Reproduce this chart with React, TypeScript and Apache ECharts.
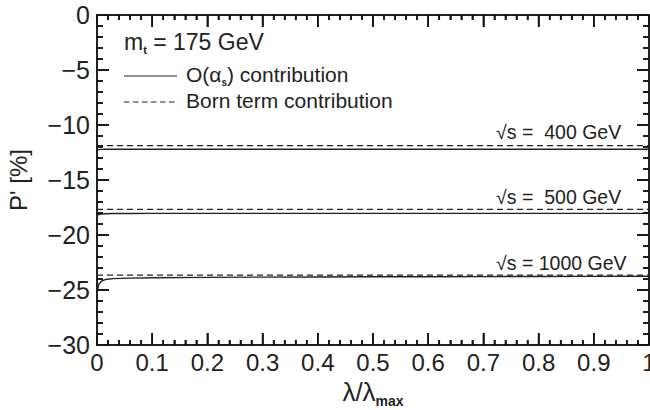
import React, { useEffect, useRef } from "react";
import * as echarts from "echarts";

const xs = [0, 0.003, 0.008, 0.015, 0.03, 0.06, 0.1, 0.2, 0.3, 0.4, 0.5, 0.6, 0.7, 0.8, 0.9, 1.0];
const alpha400 = [-12.28, -12.24, -12.22, -12.21, -12.2, -12.2, -12.2, -12.2, -12.2, -12.2, -12.2, -12.2, -12.2, -12.2, -12.2, -12.2];
const alpha500 = [-18.22, -18.15, -18.1, -18.07, -18.05, -18.04, -18.03, -18.03, -18.03, -18.03, -18.03, -18.03, -18.03, -18.03, -18.03, -18.03];
const alpha1000 = [-25.3, -24.5, -24.2, -24.05, -23.97, -23.92, -23.88, -23.85, -23.83, -23.82, -23.8, -23.79, -23.78, -23.77, -23.76, -23.75];
const bornX = [0, 1];
const born400 = [-11.88, -11.88];
const born500 = [-17.67, -17.67];
const born1000 = [-23.64, -23.64];
const energyLabels = ["√s =  400 GeV", "√s =  500 GeV", "√s = 1000 GeV"];
const energyLabelY = [-10.64, -16.55, -22.55];

const X_MIN = 0, X_MAX = 1, X_MAJOR = 0.1, X_MINOR = 0.02;
const Y_MIN = -30, Y_MAX = 0, Y_MAJOR = 5, Y_MINOR = 1;

const FONT = "Liberation Sans";
const INK = "#222";
const TICK = "#111";

function pairs(x: number[], y: number[]) {
  return x.map((v, i) => [v, y[i]]);
}

// tick marks as scatter symbols (thin rects) anchored on the frame through the axis scales
function tickData() {
  const out: any[] = [];
  const W = 1.6;
  const nx = Math.round((X_MAX - X_MIN) / X_MINOR);
  const xPer = Math.round(X_MAJOR / X_MINOR);
  for (let i = 1; i < nx; i++) {
    const v = +(X_MIN + i * X_MINOR).toFixed(4);
    const L = i % xPer === 0 ? 12 : 5;
    out.push({ value: [v, Y_MIN], symbolSize: [W, L], symbolOffset: [0, -L / 2] });
    out.push({ value: [v, Y_MAX], symbolSize: [W, L], symbolOffset: [0, L / 2] });
  }
  const ny = Math.round((Y_MAX - Y_MIN) / Y_MINOR);
  const yPer = Math.round(Y_MAJOR / Y_MINOR);
  for (let i = 1; i < ny; i++) {
    const v = Y_MIN + i * Y_MINOR;
    const L = i % yPer === 0 ? 12 : 6;
    out.push({ value: [X_MIN, v], symbolSize: [L, W], symbolOffset: [L / 2, 0] });
    out.push({ value: [X_MAX, v], symbolSize: [L, W], symbolOffset: [-L / 2, 0] });
  }
  return out;
}

export default function App() {
  const ref = useRef<HTMLDivElement>(null);
  useEffect(() => {
    if (!ref.current) return;
    const chart = echarts.init(ref.current, null, { renderer: "svg" });
    const mkAxisLine = () => ({ show: true, onZero: false, lineStyle: { color: INK, width: 2 } });
    const mkTick = () => ({ show: true, inside: true, length: 12, lineStyle: { color: TICK, width: 1.5 } });
    const xCommon = () => ({
      type: "value" as const,
      min: X_MIN,
      max: X_MAX,
      interval: X_MAJOR,
      splitLine: { show: false },
      axisLine: mkAxisLine(),
      axisTick: mkTick(),
      minorTick: { show: true, splitNumber: 5, length: 5, lineStyle: { color: TICK, width: 1.5 } },
      minorSplitLine: { show: false },
    });
    const yCommon = () => ({
      type: "value" as const,
      min: Y_MIN,
      max: Y_MAX,
      interval: Y_MAJOR,
      splitLine: { show: false },
      axisLine: mkAxisLine(),
      axisTick: mkTick(),
      minorTick: { show: true, splitNumber: 5, length: 6, lineStyle: { color: TICK, width: 1.5 } },
      minorSplitLine: { show: false },
    });
    const solid = { color: "#222", width: 1.4, type: "solid" as const };
    const dashed = { color: "#222", width: 1.3, type: [6, 4] as any };
    const mkLine = (name: string, data: number[][], ls: any) => ({
      name,
      type: "line",
      data,
      showSymbol: false,
      symbol: "none",
      lineStyle: ls,
      silent: true,
      z: 3,
    });
    const baseGraphic: any[] = [
      {
        type: "text",
        left: 124,
        top: 30,
        style: {
          text: "{a|m}{s|t}{a| = 175 GeV}",
          rich: {
            a: { fontFamily: FONT, fontSize: 23, fill: INK, lineHeight: 26, verticalAlign: "bottom" },
            s: { fontFamily: FONT, fontSize: 11, fontWeight: "bold", fill: INK, lineHeight: 12, verticalAlign: "bottom", padding: [0, 0, -2, 0] },
          },
        },
      },
      { type: "line", shape: { x1: 124, y1: 76, x2: 177, y2: 76 }, style: { stroke: INK, lineWidth: 1.2 } },
      {
        type: "text",
        left: 186,
        top: 64,
        style: {
          text: "{a|O(α}{s|s}{a|) contribution}",
          rich: {
            a: { fontFamily: FONT, fontSize: 21, fill: INK, lineHeight: 24, verticalAlign: "bottom" },
            s: { fontFamily: FONT, fontSize: 10, fontWeight: "bold", fill: INK, lineHeight: 11, verticalAlign: "bottom", padding: [0, 0, -2, 0] },
          },
        },
      },
      { type: "line", shape: { x1: 124, y1: 102, x2: 177, y2: 102 }, style: { stroke: INK, lineWidth: 1.2, lineDash: [5.5, 3.5] } },
      {
        type: "text",
        left: 186,
        top: 90,
        style: { text: "Born term contribution", fontFamily: FONT, fontSize: 21, fill: INK },
      },
    ];
    const option: any = {
      animation: false,
      backgroundColor: "#fff",
      grid: { left: 97, right: 1, top: 15, bottom: 65, containLabel: false, outerBoundsMode: "none" },
      xAxis: [
        {
          ...xCommon(),
          position: "bottom",
          name: "{a|λ/λ}{b|max}",
          nameLocation: "middle",
          nameGap: 31,
          nameTextStyle: {
            rich: {
              a: { fontFamily: FONT, fontSize: 26, color: INK, lineHeight: 26, verticalAlign: "bottom" },
              b: { fontFamily: FONT, fontSize: 14, fontWeight: "bold", color: INK, lineHeight: 14, verticalAlign: "bottom", padding: [0, 0, -3, 0] },
            },
          },
          axisLabel: {
            show: true,
            margin: 5,
            fontFamily: FONT,
            fontSize: 24,
            color: INK,
            showMaxLabel: true,
            showMinLabel: true,
            formatter: (v: number) => (v === 0 ? "0" : v === 1 ? "1" : v.toFixed(1)),
          },
        },
        { ...xCommon(), position: "top", axisLabel: { show: false } },
      ],
      yAxis: [
        {
          ...yCommon(),
          position: "left",
          name: "P' [%]",
          nameLocation: "middle",
          nameGap: 67,
          nameRotate: 90,
          nameTextStyle: { fontFamily: FONT, fontSize: 24, color: INK },
          axisLabel: {
            show: true,
            margin: 7,
            fontFamily: FONT,
            fontSize: 25,
            color: INK,
            formatter: (v: number) => (v === 0 ? "0" : "−" + Math.abs(v)),
          },
        },
        { ...yCommon(), position: "right", axisLabel: { show: false } },
      ],
      series: [
        mkLine("born400", pairs(bornX, born400), dashed),
        mkLine("born500", pairs(bornX, born500), dashed),
        mkLine("born1000", pairs(bornX, born1000), dashed),
        mkLine("alpha400", pairs(xs, alpha400), solid),
        mkLine("alpha500", pairs(xs, alpha500), solid),
        mkLine("alpha1000", pairs(xs, alpha1000), solid),
        {
          name: "ticks",
          type: "scatter",
          symbol: "rect",
          data: tickData(),
          itemStyle: { color: TICK, opacity: 1 },
          silent: true,
          clip: false,
          z: 10,
          emphasis: { disabled: true },
        },
      ],
      graphic: baseGraphic,
    };
    chart.setOption(option);

    const px = (x: number, y: number) => chart.convertToPixel({ gridIndex: 0 }, [x, y]) as number[];
    const extra: any[] = energyLabels.map((t, i) => {
      const p = px(0.723, energyLabelY[i]);
      return {
        type: "text",
        x: p[0],
        y: p[1],
        style: { text: t, fontFamily: FONT, fontSize: 19.5, fill: INK, verticalAlign: "middle" },
      };
    });
    chart.setOption({ graphic: [...baseGraphic, ...extra] });
    return () => chart.dispose();
  }, []);
  return <div ref={ref} style={{ position: "fixed", left: 0, top: 0, width: 650, height: 410 }} />;
}
